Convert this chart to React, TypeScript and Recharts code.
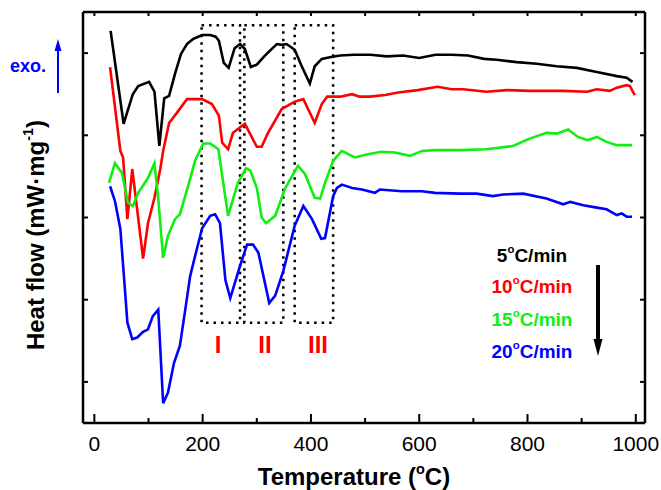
import React from 'react';
import { LineChart, Line, XAxis, YAxis, ReferenceArea } from 'recharts';

// DSC curves, [temperature °C, heat flow (a.u.)]
const rate5: [number, number][] = [
  [30, 4.27], [54, 3.14], [71, 3.5], [81, 3.6], [101, 3.65], [111, 3.53], [120, 2.87], [129, 3.45],
  [138, 3.48], [149, 3.75], [160, 3.99], [171, 4.11], [182, 4.17], [199, 4.22], [214, 4.22], [224, 4.2],
  [230, 4.15], [239, 3.88], [248, 3.82], [259, 4.06], [269, 4.11], [278, 4.05], [289, 3.83], [300, 3.86],
  [315, 3.97], [337, 4.11], [346, 4.1], [355, 4.11], [370, 4.04], [383, 3.84], [398, 3.63], [407, 3.84],
  [420, 3.93], [435, 3.95], [454, 3.97], [480, 3.98], [510, 3.98], [540, 3.96], [570, 3.97], [600, 3.94],
  [630, 3.98], [660, 3.98], [690, 3.97], [720, 3.93], [743, 3.92], [780, 3.89], [817, 3.87], [854, 3.84],
  [891, 3.82], [928, 3.77], [965, 3.72], [983, 3.7], [994, 3.65],
];

const rate10: [number, number][] = [
  [29, 3.83], [48, 2.81], [53, 2.73], [61, 1.98], [70, 2.59], [90, 1.5], [99, 1.93], [111, 2.24],
  [122, 2.6], [127, 2.81], [138, 3.15], [152, 3.27], [171, 3.44], [199, 3.44], [217, 3.38], [230, 3.24],
  [236, 2.91], [247, 2.83], [256, 3.03], [278, 3.14], [300, 2.86], [309, 2.86], [320, 3.02], [346, 3.32],
  [370, 3.41], [386, 3.44], [407, 3.15], [420, 3.38], [430, 3.47], [454, 3.47], [476, 3.5], [490, 3.47],
  [509, 3.47], [537, 3.49], [561, 3.52], [597, 3.55], [634, 3.59], [660, 3.56], [681, 3.56], [724, 3.53],
  [762, 3.55], [804, 3.54], [866, 3.54], [910, 3.53], [928, 3.56], [952, 3.54], [965, 3.58], [983, 3.61],
  [989, 3.6], [998, 3.49],
];

const rate15: [number, number][] = [
  [27, 2.42], [38, 2.66], [51, 2.54], [62, 2.18], [71, 2.14], [81, 2.3], [99, 2.48], [111, 2.66],
  [118, 2.23], [127, 1.51], [136, 1.78], [149, 1.98], [158, 2.04], [173, 2.38], [186, 2.69], [201, 2.9],
  [214, 2.9], [229, 2.83], [247, 2.02], [265, 2.42], [280, 2.6], [288, 2.57], [300, 2.36], [309, 2.0],
  [317, 1.93], [334, 2.02], [352, 2.35], [376, 2.63], [389, 2.53], [407, 2.24], [417, 2.23], [426, 2.42],
  [441, 2.69], [457, 2.81], [481, 2.73], [505, 2.77], [530, 2.8], [555, 2.79], [583, 2.75], [605, 2.81],
  [629, 2.82], [675, 2.82], [724, 2.83], [773, 2.87], [804, 2.96], [835, 3.03], [854, 3.02], [875, 3.07],
  [893, 2.98], [911, 2.94], [928, 2.98], [946, 2.92], [965, 2.88], [993, 2.88],
];

const rate20: [number, number][] = [
  [29, 2.38], [38, 2.2], [48, 1.86], [55, 1.25], [61, 0.72], [70, 0.52], [79, 0.54], [90, 0.61],
  [99, 0.64], [108, 0.8], [118, 0.88], [127, -0.26], [136, -0.13], [147, 0.23], [158, 0.44], [167, 0.84],
  [177, 1.29], [186, 1.53], [199, 1.87], [214, 2.02], [223, 2.04], [232, 1.93], [242, 1.24], [251, 1.02],
  [269, 1.41], [282, 1.67], [293, 1.67], [303, 1.57], [323, 0.96], [334, 1.05], [349, 1.35], [370, 1.9],
  [386, 2.14], [402, 1.98], [419, 1.74], [426, 1.75], [441, 2.26], [448, 2.36], [457, 2.4], [476, 2.36],
  [494, 2.34], [518, 2.3], [527, 2.34], [568, 2.32], [605, 2.32], [629, 2.3], [675, 2.29], [706, 2.29],
  [736, 2.26], [755, 2.28], [792, 2.29], [835, 2.23], [866, 2.16], [879, 2.19], [903, 2.15], [928, 2.12],
  [946, 2.1], [965, 2.03], [974, 2.05], [983, 2.01], [993, 2.01],
];

// stage boxes (temperature ranges) and their vertical extent
const stageRanges: [number, number][] = [[198, 269], [277, 349], [370, 441]];
const stageTop = 4.34;
const stageBottom = 0.72;

const xTicks = [0, 100, 200, 300, 400, 500, 600, 700, 800, 900, 1000];
const yTicks = [0, 1, 2, 3, 4];
const xDomain = [-21, 1017];
const yDomain = [-0.5, 4.5];

const series = [
  { name: '5', data: rate5, color: '#000000' },
  { name: '10', data: rate10, color: '#ff0000' },
  { name: '15', data: rate15, color: '#11ee11' },
  { name: '20', data: rate20, color: '#0000ff' },
];

const FONT = '"Liberation Sans", Arial, sans-serif';

const BottomTick = (props: any) => {
  const { x, y, payload } = props;
  const major = payload.value % 200 === 0;
  return (
    <g>
      <line x1={x} x2={x} y1={y} y2={y - (major ? 9 : 5)} stroke="#000" strokeWidth={2} />
      {major && (
        <text x={x} y={y + 13} dy="0.71em" textAnchor="middle" fontSize={21} fontFamily={FONT} fill="#000">
          {payload.value}
        </text>
      )}
    </g>
  );
};

const TopTick = (props: any) => {
  const { x, y } = props;
  return <line x1={x} x2={x} y1={y} y2={y + 4} stroke="#000" strokeWidth={2} />;
};

const LeftTick = (props: any) => {
  const { x, y } = props;
  return <line x1={x} x2={x + 5} y1={y} y2={y} stroke="#000" strokeWidth={2} />;
};

const RightTick = (props: any) => {
  const { x, y } = props;
  return <line x1={x} x2={x - 5} y1={y} y2={y} stroke="#000" strokeWidth={2} />;
};

const rateLabel = (rate: string, color: string, y: number) => (
  <text key={rate} x={532} y={y} textAnchor="middle" fontSize={19} fontWeight="bold" fontFamily={FONT} fill={color}>
    {rate}
    <tspan fontSize="0.6em" dy="-0.8em">o</tspan>
    <tspan dy="0.48em">C/min</tspan>
  </text>
);

const axisLine = { stroke: '#000', strokeWidth: 2.5 };

export default function App() {
  return (
    <div style={{ position: 'absolute', left: 0, top: 0, width: 661, height: 490, background: '#fff' }}>
      <LineChart
        width={661}
        height={490}
        margin={{ top: 11, right: 15, bottom: 66, left: 82 }}
      >
        <XAxis
          dataKey="t"
          type="number"
          domain={xDomain}
          allowDataOverflow
          ticks={xTicks}
          interval={0}
          height={1}
          tickSize={0}
          tickMargin={0}
          tickLine={false}
          tick={<BottomTick />}
          axisLine={axisLine}
        />
        <XAxis
          xAxisId="top"
          orientation="top"
          dataKey="t"
          type="number"
          domain={xDomain}
          allowDataOverflow
          ticks={xTicks}
          interval={0}
          height={1}
          tickSize={0}
          tickMargin={0}
          tickLine={false}
          tick={<TopTick />}
          axisLine={axisLine}
        />
        <YAxis
          type="number"
          domain={yDomain}
          allowDataOverflow
          ticks={yTicks}
          interval={0}
          width={1}
          tickSize={0}
          tickMargin={0}
          tickLine={false}
          tick={<LeftTick />}
          axisLine={axisLine}
        />
        <YAxis
          yAxisId="right"
          orientation="right"
          type="number"
          domain={yDomain}
          allowDataOverflow
          ticks={yTicks}
          interval={0}
          width={1}
          tickSize={0}
          tickMargin={0}
          tickLine={false}
          tick={<RightTick />}
          axisLine={axisLine}
        />
        {stageRanges.map(([a, b], i) => (
          <ReferenceArea
            key={i}
            x1={a}
            x2={b}
            y1={stageBottom}
            y2={stageTop}
            fill="none"
            fillOpacity={0}
            stroke="#000"
            strokeWidth={2.5}
            strokeDasharray="2.5 5"
          />
        ))}
        {series.map((s) => (
          <Line
            key={s.name}
            data={s.data.map(([t, v]) => ({ t, v }))}
            dataKey="v"
            type="linear"
            stroke={s.color}
            strokeWidth={2.6}
            dot={false}
            activeDot={false}
            isAnimationActive={false}
          />
        ))}
      </LineChart>
      <svg
        width={661}
        height={490}
        style={{ position: 'absolute', left: 0, top: 0, pointerEvents: 'none' }}
      >
        <text x={10} y={72} fontSize={18} fontWeight="bold" fontFamily={FONT} fill="#0000ff">exo.</text>
        <line x1={58} x2={58} y1={93} y2={50} stroke="#0000ff" strokeWidth={2} />
        <polygon points="58,39 54.5,51 61.5,51" fill="#0000ff" />

        <text
          transform="translate(44,235) rotate(-90)"
          textAnchor="middle"
          fontSize={24}
          fontWeight="bold"
          fontFamily={FONT}
          fill="#000"
        >
          Heat flow (mW·mg<tspan fontSize="0.6em" dy="-0.75em">-1</tspan><tspan dy="0.45em">)</tspan>
        </text>
        <text x={354} y={485} textAnchor="middle" fontSize={24} fontWeight="bold" fontFamily={FONT} fill="#000">
          Temperature (<tspan fontSize="0.6em" dy="-0.75em">o</tspan><tspan dy="0.45em">C)</tspan>
        </text>

        <text x={218} y={353} textAnchor="middle" fontSize={24} fontWeight="bold" fontFamily={FONT} fill="#ff0000">I</text>
        <text x={265} y={353} textAnchor="middle" fontSize={24} fontWeight="bold" fontFamily={FONT} fill="#ff0000">II</text>
        <text x={318} y={353} textAnchor="middle" fontSize={24} fontWeight="bold" fontFamily={FONT} fill="#ff0000">III</text>

        {rateLabel('5', '#000000', 262)}
        {rateLabel('10', '#ff0000', 293)}
        {rateLabel('15', '#11ee11', 326)}
        {rateLabel('20', '#0000ff', 358)}

        <line x1={598} x2={598} y1={265} y2={341} stroke="#000" strokeWidth={4} />
        <polygon points="598,356 593.5,339 602.5,339" fill="#000" />
      </svg>
    </div>
  );
}
